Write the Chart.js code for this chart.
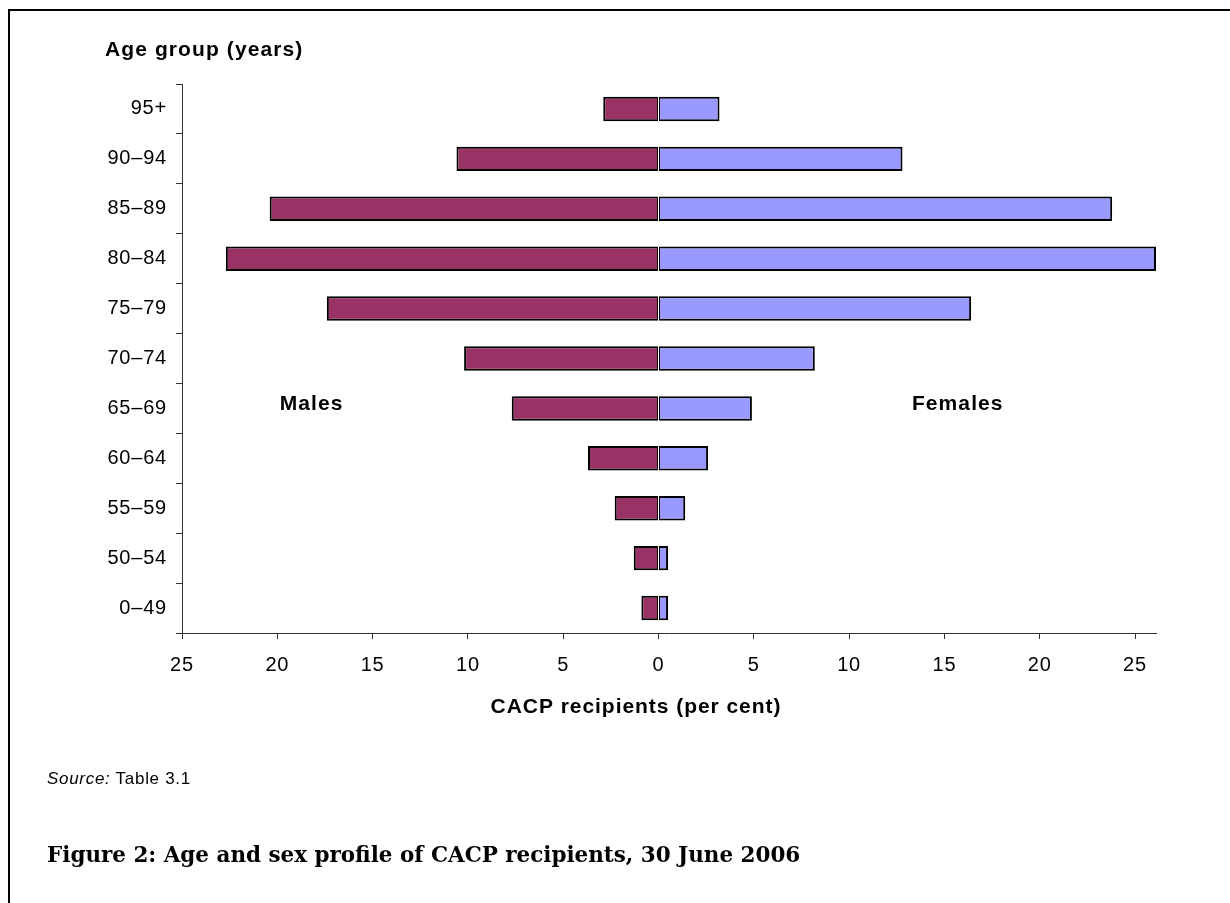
<!DOCTYPE html>
<html>
<head>
<meta charset="utf-8">
<script src="https://cdn.jsdelivr.net/npm/chart.js@4.4.1/dist/chart.umd.min.js"></script>
<style>
  body { margin: 0; background: #fff; }
  #page { position: relative; width: 1230px; height: 903px; overflow: hidden; }
  #frame { position: absolute; left: 8px; top: 9px; width: 1400px; height: 1000px;
           border-top: 2px solid #000; border-left: 2px solid #000; }
  #wrap { position: absolute; left: 0; top: 0; width: 1230px; height: 903px; }
  #source { position: absolute; left: 47px; top: 769px; font: 17px "Liberation Sans", Arial, sans-serif;
            letter-spacing: 0.7px; color: #000; white-space: nowrap; }
  #caption { position: absolute; left: 47px; top: 844px; font: bold 21px "DejaVu Serif", "Liberation Serif", serif;
             line-height: 1; color: #000; white-space: nowrap; }
</style>
</head>
<body>
<div id="page">
  <div id="frame"></div>
  <div id="wrap"><canvas id="pyramid"></canvas></div>
  <div id="source"><i>Source:</i> Table 3.1</div>
  <div id="caption">Figure 2: Age and sex profile of CACP recipients, 30 June 2006</div>
</div>
<script>
// Age groups, top of the chart to bottom
const ageGroups = ['95+', '90–94', '85–89', '80–84', '75–79', '70–74', '65–69', '60–64', '55–59', '50–54', '0–49'];

// Per cent of CACP recipients
const males   = [2.9, 10.6, 20.4, 22.7, 17.4, 10.2, 7.7, 3.7, 2.3, 1.3, 0.9];
const females = [3.2, 12.8, 23.8, 26.1, 16.4, 8.2, 4.9, 2.6, 1.4, 0.5, 0.5];

const xMin = -25;
const xMax = 26.1;
const xStep = 5;

const yTitle = 'Age group (years)';
const xTitle = 'CACP recipients (per cent)';

const sansFont = '"Liberation Sans", Arial, sans-serif';

// caption font is wider in the original (Palatino), squeeze/stretch ours to the same width
const caption = document.getElementById('caption');
const captionWidth = 753;
caption.style.fontSize = (21 * captionWidth / caption.offsetWidth).toFixed(2) + 'px';

// Draws the axis titles and the Males / Females labels
const textPlugin = {
  id: 'chartText',
  beforeDraw: (chart) => {
    chart.ctx.letterSpacing = '0.8px'; // tick labels are a bit spread out in the original
  },
  afterDraw: (chart) => {
    const { ctx, scales: { x, y } } = chart;
    ctx.save();
    ctx.fillStyle = '#000';
    ctx.font = 'bold 21px ' + sansFont;
    ctx.letterSpacing = '1.1px';
    ctx.textBaseline = 'alphabetic';

    ctx.textAlign = 'left';
    ctx.fillText(yTitle, 105, 56);

    ctx.textAlign = 'center';
    ctx.letterSpacing = '0.95px';
    ctx.fillText(xTitle, 636, 713);

    const rowY = y.getPixelForValue(6); // beside the 65–69 bar
    ctx.letterSpacing = '1.1px';
    ctx.fillText('Males', x.getPixelForValue(-18.2), rowY + 2);
    ctx.fillText('Females', x.getPixelForValue(15.7), rowY + 2);
    ctx.restore();
  }
};

const ctx = document.getElementById('pyramid').getContext('2d');
new Chart(ctx, {
  type: 'bar',
  data: {
    labels: ageGroups,
    datasets: [
      {
        label: 'Males',
        data: males.map(v => -v),
        backgroundColor: '#993366',
        borderColor: '#000',
        borderWidth: { top: 2, bottom: 2, left: 2, right: 1 }, // shares the zero edge with females
        borderSkipped: false,
        barPercentage: 0.49,
        categoryPercentage: 1
      },
      {
        label: 'Females',
        data: females,
        backgroundColor: '#9999FF',
        borderColor: '#000',
        borderWidth: { top: 2, bottom: 2, left: 1, right: 2 },
        borderSkipped: false,
        barPercentage: 0.49,
        categoryPercentage: 1
      }
    ]
  },
  options: {
    indexAxis: 'y',
    responsive: true,
    maintainAspectRatio: false,
    animation: false,
    layout: { padding: { left: 0, right: 74, top: 84, bottom: 0 } },
    plugins: {
      legend: { display: false },
      tooltip: { enabled: false }
    },
    scales: {
      x: {
        stacked: true,
        min: xMin,
        max: xMax,
        ticks: {
          stepSize: xStep,
          includeBounds: false,
          color: '#000',
          padding: 14,
          maxRotation: 0,
          font: { family: sansFont, size: 20 },
          callback: (value) => Math.abs(value)
        },
        grid: { drawOnChartArea: false, tickLength: 6, color: '#333' },
        border: { color: '#333', width: 1 },
        afterFit: (scale) => { scale.height = 270; }
      },
      y: {
        stacked: true,
        ticks: {
          color: '#000',
          padding: 9,
          font: { family: sansFont, size: 20 }
        },
        grid: { drawOnChartArea: false, tickLength: 6, color: '#333', offset: true },
        border: { color: '#333', width: 1 },
        afterFit: (scale) => { scale.width = 182; }
      }
    }
  },
  plugins: [textPlugin]
});
</script>
</body>
</html>
